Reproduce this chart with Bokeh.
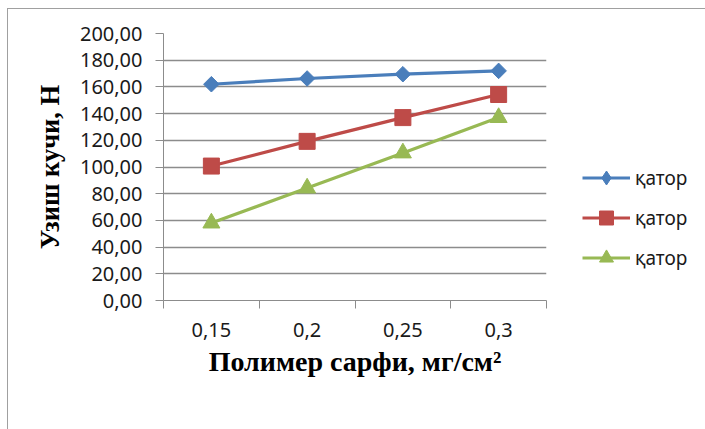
import math
from bokeh.plotting import figure
from bokeh.models import (ColumnDataSource, FixedTicker, Legend, LegendItem)
from bokeh.embed import file_html
from bokeh.resources import INLINE

# Polymer consumption (mg/cm^2) and tensile force (N) for three rows
categories = ["0,15", "0,2", "0,25", "0,3"]
row1 = [162.0, 166.3, 169.5, 172.0]
row2 = [100.7, 119.2, 137.0, 154.3]
row3 = [58.0, 84.2, 110.5, 137.0]
series_names = ["қатор", "қатор", "қатор"]
y_ticks = [0, 20, 40, 60, 80, 100, 120, 140, 160, 180, 200]
y_tick_labels = ["0,00", "20,00", "40,00", "60,00", "80,00", "100,00",
                 "120,00", "140,00", "160,00", "180,00", "200,00"]

x_pos = list(range(1, len(categories) + 1))

p = figure(width=697, height=420, output_backend="svg", toolbar_location=None,
           x_range=(0.5, len(categories) + 0.5), y_range=(0, 200),
           frame_width=383, frame_height=267,
           min_border_left=155, min_border_top=24,
           min_border_right=159, min_border_bottom=129)
p.margin = (8, 0, 0, 7)
p.styles = {"border-left": "1px solid #a0a0a0", "border-top": "1px solid #a0a0a0"}
p.outline_line_color = None
p.background_fill_color = "white"
p.border_fill_color = "white"

grid_col = "#8c8c8c"
tick_font = "Noto Sans"
tick_size = "20px"
title_font = "Liberation Serif"

# y axis
p.yaxis.ticker = FixedTicker(ticks=y_ticks)
p.yaxis.major_label_overrides = {t: l for t, l in zip(y_ticks, y_tick_labels)}
p.yaxis.minor_tick_line_color = None
p.yaxis.major_tick_in = 0
p.yaxis.major_tick_out = 8
p.yaxis.major_label_standoff = 13
p.yaxis.axis_line_color = grid_col
p.yaxis.major_tick_line_color = grid_col
p.yaxis.major_label_text_font = tick_font
p.yaxis.major_label_text_font_size = tick_size
p.yaxis.major_label_text_color = "#1a1a1a"
p.yaxis.axis_label = "Узиш кучи, Н"
p.yaxis.axis_label_text_font = title_font
p.yaxis.axis_label_text_font_style = "bold"
p.yaxis.axis_label_text_font_size = "26.5px"
p.yaxis.axis_label_text_color = "black"
p.yaxis.axis_label_standoff = 12

# x axis: labels at category centres, tick marks on category boundaries
p.xaxis.ticker = FixedTicker(ticks=x_pos,
                             minor_ticks=[x - 0.5 for x in x_pos] + [x_pos[-1] + 0.5])
p.xaxis.major_label_overrides = {x: c for x, c in zip(x_pos, categories)}
p.xaxis.major_tick_in = 0
p.xaxis.major_tick_out = 0
p.xaxis.minor_tick_in = 0
p.xaxis.minor_tick_out = 8
p.xaxis.minor_tick_line_color = grid_col
p.xaxis.axis_line_color = grid_col
p.xaxis.major_label_standoff = 14
p.xaxis.major_label_text_font = tick_font
p.xaxis.major_label_text_font_size = tick_size
p.xaxis.major_label_text_color = "#1a1a1a"
p.xaxis.axis_label = "Полимер сарфи, мг/см²"
p.xaxis.axis_label_text_font = title_font
p.xaxis.axis_label_text_font_style = "bold"
p.xaxis.axis_label_text_font_size = "28px"
p.xaxis.axis_label_text_color = "black"
p.xaxis.axis_label_standoff = 6

p.xgrid.grid_line_color = None
p.ygrid.ticker = FixedTicker(ticks=y_ticks[1:])
p.ygrid.grid_line_color = grid_col
p.ygrid.grid_line_width = 1.3

colors = ["#4a7ebb", "#be4b48", "#98b954"]
# plot markers: a square turned 45 degrees gives the wide diamond
markers = ["square", "square", "triangle"]
angles = [math.pi / 4, 0, 0]
sizes = [11, 16, 17]
legend_markers = ["diamond", "square", "triangle"]

items = []
for name, vals, col, mk, ang, sz, lmk in zip(series_names, [row1, row2, row3],
                                              colors, markers, angles, sizes,
                                              legend_markers):
    src = ColumnDataSource(dict(x=x_pos, y=vals))
    ln = p.line("x", "y", source=src, line_color=col, line_width=3.2)
    p.scatter("x", "y", source=src, marker=mk, angle=ang, size=sz,
              fill_color=col, line_color=col)
    # key-only marker renderer (no points) so the legend shows the plain marker
    key = p.scatter(x=[float("nan")], y=[float("nan")], marker=lmk, size=sz,
                    fill_color=col, line_color=col)
    items.append(LegendItem(label=name, renderers=[ln, key]))

legend = Legend(items=items, location=(36, 25), orientation="vertical",
                glyph_width=48, glyph_height=35, spacing=5,
                label_standoff=5, padding=0, margin=0,
                border_line_color=None, background_fill_alpha=0,
                label_text_font=tick_font, label_text_font_size="19px",
                label_text_color="#1a1a1a")
p.add_layout(legend, "right")

open("out.html", "w").write(file_html(p, INLINE))
